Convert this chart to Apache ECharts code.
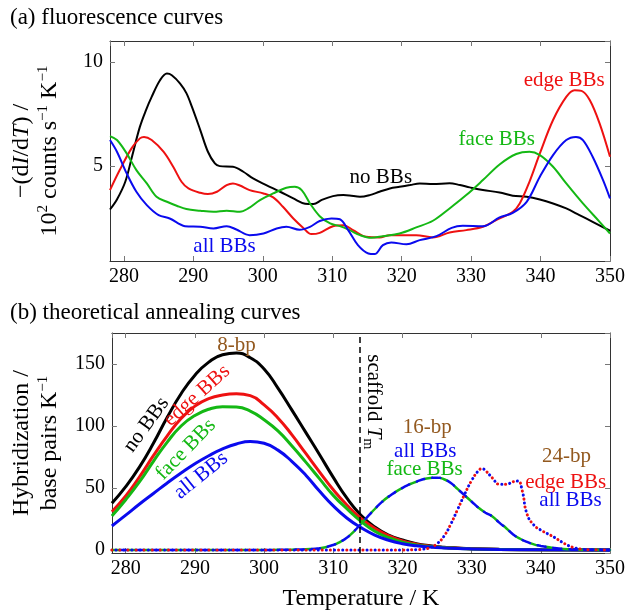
<!DOCTYPE html>
<html>
<head>
<meta charset="utf-8">
<script src="https://cdn.jsdelivr.net/npm/echarts@6/dist/echarts.min.js"></script>
<style>
  html, body { margin: 0; padding: 0; background: #fff; }
  #chart { width: 628px; height: 614px; }
</style>
</head>
<body>
<div id="chart"></div>
<script>
// ---- data: (a) fluorescence curves, [T (K), -(dI/dT) / 1e2 counts s^-1 K^-1]
var fluorNoBBs = [[278,2.92],[279,3.4],[280.2,4.25],[281.2,5.5],[282.3,6.88],[283.2,7.7],[284,8.32],[285.2,9.12],[286.2,9.44],[286.9,9.36],[288.1,8.96],[289,8.5],[289.8,7.84],[291,6.73],[292.1,5.69],[293.1,5.13],[293.8,5.0],[295.7,4.97],[297.2,4.73],[298.6,4.41],[300.5,4.09],[302.5,3.77],[304.4,3.45],[306.1,3.2],[307.3,3.18],[308.5,3.38],[310.1,3.56],[311.6,3.61],[312.5,3.59],[314,3.53],[315.4,3.61],[316.8,3.77],[318.3,3.93],[319.7,4.01],[321.2,4.09],[322.6,4.17],[324.5,4.14],[326.9,4.18],[328.4,4.09],[329.8,3.98],[331.7,3.85],[334.1,3.74],[336,3.58],[338,3.53],[339.9,3.40],[341.8,3.21],[343.7,2.97],[345.6,2.65],[347.5,2.33],[350,1.90]];
var fluorEdgeBBs = [[278,3.85],[279.4,4.81],[281.1,5.85],[282.3,6.33],[282.9,6.40],[284,6.25],[285.7,5.69],[287.1,4.97],[288.3,4.25],[289.3,3.93],[291,3.72],[292.1,3.66],[293.4,3.77],[294.8,4.09],[295.7,4.17],[296.7,4.07],[298.1,3.85],[300.1,3.69],[301.5,3.5],[302.9,3.05],[304.4,2.49],[305.8,2.05],[307,1.74],[308.2,1.8],[310.1,2.12],[311.6,2.17],[313,1.93],[314.9,1.61],[316.8,1.58],[318.3,1.69],[320.2,1.69],[322.1,1.69],[324.5,1.58],[326.9,1.82],[329.3,1.93],[331.7,2.09],[333.6,2.41],[336,2.81],[337,3.21],[338.4,4.25],[339.9,5.61],[341.8,7.21],[343.7,8.32],[344.9,8.64],[345.9,8.61],[347.1,8.16],[348.5,7.05],[350,5.45]];
var fluorFaceBBs = [[278,6.44],[279,6.25],[280.4,5.61],[281.8,4.81],[283.3,4.17],[284.7,3.53],[286.2,3.29],[287.6,3.10],[289,2.94],[291,2.86],[292.9,2.81],[294.8,2.86],[296.7,2.81],[297.9,2.97],[299.6,3.37],[301.5,3.69],[303.4,3.96],[304.6,4.01],[305.6,3.85],[306.8,3.21],[308.2,2.6],[309.7,2.25],[311.1,2.12],[312.5,1.93],[314,1.69],[315.6,1.56],[317.3,1.64],[319.7,1.77],[322.1,2.06],[324.5,2.38],[326.9,2.97],[329.3,3.61],[331.7,4.33],[334.1,5.08],[336.5,5.58],[338.4,5.69],[339.9,5.53],[341.8,4.97],[343.7,4.17],[346.1,3.21],[348.5,2.33],[350,1.77]];
var fluorAllBBs = [[278,6.25],[279,5.69],[280.4,4.65],[281.8,3.77],[283.3,3.13],[285,2.65],[286.6,2.49],[288.8,2.12],[291,2.09],[292.9,2.01],[294.8,2.12],[296.2,1.96],[298.1,1.69],[300.1,1.77],[302,2.01],[303.4,2.09],[305.3,1.95],[306.8,2.09],[308.2,2.37],[309.9,2.49],[311.1,2.45],[312.3,1.93],[313.7,1.21],[315.2,0.81],[316.1,0.78],[317.3,1.21],[318.5,1.34],[320.7,1.25],[322.6,1.45],[325,1.64],[327.2,2.04],[328.8,2.14],[331.7,2.12],[334.1,2.54],[336,2.76],[338,3.29],[339.9,4.49],[341.8,5.53],[343.7,6.25],[345.1,6.40],[346.1,6.25],[347.5,5.45],[349,4.33],[350,3.45]];

// ---- data: (b) theoretical annealing curves, [T (K), base pairs K^-1]
var bp8NoBBs = [[278,37.6],[280,51],[282,67],[284,86],[286,107],[288,126],[290,141],[292,151.5],[294,157.5],[296,158.8],[298,155],[300,146],[302,130.5],[304,113],[306,95],[308,77],[310,58.5],[312,41.5],[314,28],[316,18.5],[318,12],[320,8],[322,5],[324,3.3],[326,2.2],[328,1.5],[330,1],[334,0.5],[340,0.2],[350,0]];
var bp8EdgeBBs = [[278,30.8],[280,43.5],[282,59],[284,76],[286,92],[288,106],[290,116],[292,122],[294,125],[296,126],[298,124.5],[300,117],[302,106.5],[304,93],[306,78],[308,63],[310,48.5],[312,36],[314,25.5],[316,17.5],[318,11.5],[320,7.2],[322,4.6],[324,3],[326,2],[328,1.3],[330,0.9],[334,0.4],[340,0.1],[350,0]];
var bp8FaceBBs = [[278,27.4],[280,40.5],[282,55],[284,71.5],[286,87],[288,100],[290,108.5],[292,113.5],[294,115.5],[296,115.3],[298,112],[300,105],[302,96],[304,84],[306,71],[308,57.5],[310,44],[312,33],[314,23],[316,15],[318,9.8],[320,6.2],[322,4],[324,2.7],[326,1.8],[328,1.2],[330,0.8],[334,0.4],[340,0.1],[350,0]];
var bp8AllBBs = [[278,19.3],[280,28],[282,37],[284,45.5],[286,54],[288,62],[290,69.5],[292,76],[294,81.5],[296,85.5],[298,87.5],[300,86],[302,80.5],[304,71.5],[306,60.5],[308,47.5],[310,35.5],[312,25.5],[314,18],[316,12],[318,7.8],[320,5],[322,3.3],[324,2.3],[326,1.6],[328,1.1],[330,0.8],[334,0.4],[340,0.1],[350,0]];
var bp16 = [[278,0],[300,0],[304,0.2],[306,0.5],[308,1.3],[310,4],[311,6.5],[312,10],[313,15],[314,21],[315,27],[316,33],[317,38.5],[318,43],[320,50],[322,55],[324,58],[325,58.3],[326,57],[327,54],[328,49],[329,44],[330,39],[331,34],[332,30],[333,27],[334,22],[335,17.5],[336,12.5],[337,9],[338,6.5],[339,4.5],[340,3.2],[342,1.5],[344,0.5],[346,0.1],[350,0]];
var bp24 = [[278,0],[320,0],[322,0.2],[323,0.6],[324,1.8],[325,5],[326,11],[327,21],[328,33],[329,45],[330,56],[331,64],[331.5,65.5],[332,64],[333,58],[334,53],[335,53],[336,55],[336.7,55.5],[337.3,48],[338,29],[339,20],[340,16],[341,13],[342,10],[343,6.5],[344,3.5],[345,1.5],[346,0.5],[347,0.1],[350,0]];
var scaffoldTm = 313.8;

var tempMin = 278, tempMax = 350;
var xTickStep = 10;
var fluorMin = 0.45, fluorMax = 11, fluorTickStep = 5;
var hybMin = -2.5, hybMax = 175, hybTickStep = 50;

var SERIF = '"Liberation Serif", "DejaVu Serif", serif';
var BLACK = '#000000', RED = '#ee1111', GREEN = '#14b814', BLUE = '#0a0aee', BROWN = '#93591f';

var chart = echarts.init(document.getElementById('chart'));

function makeX(grid, pos, withLabels, name) {
    return {
        type: 'value', gridIndex: grid, position: pos,
        min: tempMin, max: tempMax, minInterval: xTickStep, maxInterval: xTickStep,
        axisLine: { show: true, onZero: false, lineStyle: { color: '#333', width: 1 } },
        axisTick: { show: true, inside: true, length: 5, lineStyle: { color: '#777' } },
        axisLabel: { show: withLabels, showMinLabel: false, color: '#000', fontFamily: SERIF, fontSize: 20, margin: 6 },
        splitLine: { show: false },
        name: name || '', nameLocation: 'middle', nameGap: 34,
        nameTextStyle: { color: '#000', fontFamily: SERIF, fontSize: 24 }
    };
}
function makeY(grid, pos, withLabels, lo, hi, step, name) {
    return {
        type: 'value', gridIndex: grid, position: pos,
        min: lo, max: hi, minInterval: step, maxInterval: step,
        axisLine: { show: true, onZero: false, lineStyle: { color: '#333', width: 1 } },
        axisTick: { show: true, inside: true, length: 5, lineStyle: { color: '#777' } },
        axisLabel: { show: withLabels, showMinLabel: false, showMaxLabel: false, color: '#000', fontFamily: SERIF, fontSize: 20, margin: 7 },
        splitLine: { show: false },
        name: name || '', nameLocation: 'middle', nameRotate: 90, nameGap: 46,
        nameTextStyle: {
            color: '#000', fontFamily: SERIF, fontSize: 24, lineHeight: 28,
            rich: {
                n: { fontFamily: SERIF, fontSize: 24, lineHeight: 28, color: '#000' },
                i: { fontFamily: SERIF, fontSize: 24, lineHeight: 28, fontStyle: 'italic', color: '#000' },
                sup: { fontFamily: SERIF, fontSize: 15, lineHeight: 28, verticalAlign: 'top', color: '#000' }
            }
        }
    };
}

function line(name, data, xi, color, width, dash, offset) {
    return {
        name: name, type: 'line', xAxisIndex: xi, yAxisIndex: xi,
        data: data, showSymbol: false, symbol: 'none', smooth: xi === 0 ? 0.35 : 0.5,
        lineStyle: { color: color, width: width, type: dash || 'solid', dashOffset: offset || 0, cap: dash ? 'round' : 'butt' },
        silent: true
    };
}

var bp8Black = line('8-bp no BBs', bp8NoBBs, 2, BLACK, 3);
bp8Black.markLine = {
    symbol: 'none', silent: true, label: { show: false },
    lineStyle: { color: '#000', type: [6, 4], width: 1.5 },
    data: [{ xAxis: scaffoldTm }]
};

var option = {
    animation: false,
    backgroundColor: '#ffffff',
    title: [
        { text: '(a) fluorescence curves', left: 10, top: 6, padding: 0,
          textStyle: { fontFamily: SERIF, fontSize: 23, fontWeight: 'normal', color: '#000' } },
        { text: '(b) theoretical annealing curves', left: 10, top: 301, padding: 0,
          textStyle: { fontFamily: SERIF, fontSize: 23, fontWeight: 'normal', color: '#000' } }
    ],
    grid: [
        { left: 110, top: 41, width: 501, height: 220 },
        { left: 110, top: 333, width: 501, height: 220 }
    ],
    xAxis: [
        makeX(0, 'bottom', true),
        makeX(0, 'top', false),
        makeX(1, 'bottom', true, 'Temperature / K'),
        makeX(1, 'top', false)
    ],
    yAxis: [
        makeY(0, 'left', true, fluorMin, fluorMax, fluorTickStep,
            '{n|−(d}{i|I}{n|/d}{i|T}{n|) /}\n{n|10}{sup|2}{n| counts s}{sup|−1}{n| K}{sup|−1}'),
        makeY(0, 'right', false, fluorMin, fluorMax, fluorTickStep),
        makeY(1, 'left', true, hybMin, hybMax, hybTickStep,
            '{n|Hybridization /}\n{n|base pairs K}{sup|−1}'),
        makeY(1, 'right', false, hybMin, hybMax, hybTickStep)
    ],
    series: [
        line('no BBs', fluorNoBBs, 0, BLACK, 2),
        line('edge BBs', fluorEdgeBBs, 0, RED, 2),
        line('face BBs', fluorFaceBBs, 0, GREEN, 2),
        line('all BBs', fluorAllBBs, 0, BLUE, 2),
        bp8Black,
        line('8-bp edge BBs', bp8EdgeBBs, 2, RED, 3),
        line('8-bp face BBs', bp8FaceBBs, 2, GREEN, 3),
        line('8-bp all BBs', bp8AllBBs, 2, BLUE, 3),
        line('16-bp face BBs', bp16, 2, GREEN, 2.5, [8, 8], 0),
        line('16-bp all BBs', bp16, 2, BLUE, 2.5, [8, 8], 8),
        line('24-bp edge BBs', bp24, 2, RED, 3, [0.1, 8], 0),
        line('24-bp all BBs', bp24, 2, BLUE, 3, [0.1, 8], 4)
    ]
};
chart.setOption(option);

// annotation texts anchored at data coordinates
var notes = [
    { g: 0, at: [317, 4.47], text: 'no BBs', color: BLACK, rot: 0 },
    { g: 0, at: [343.4, 9.12], text: 'edge BBs', color: RED, rot: 0 },
    { g: 0, at: [333.7, 6.28], text: 'face BBs', color: GREEN, rot: 0 },
    { g: 0, at: [294.5, 1.13], text: 'all BBs', color: BLUE, rot: 0 },
    { g: 1, at: [296, 164.6], text: '8-bp', color: BROWN, rot: 0 },
    { g: 1, at: [283.0, 101], text: 'no BBs', color: BLACK, rot: 54 },
    { g: 1, at: [290.3, 124.5], text: 'edge BBs', color: RED, rot: 42 },
    { g: 1, at: [288.7, 81], text: 'face BBs', color: GREEN, rot: 46 },
    { g: 1, at: [290.9, 60], text: 'all BBs', color: BLUE, rot: 39 },
    { g: 1, at: [323.6, 98.6], text: '16-bp', color: BROWN, rot: 0 },
    { g: 1, at: [323.3, 79.7], text: 'all BBs', color: BLUE, rot: 0 },
    { g: 1, at: [323.2, 65.2], text: 'face BBs', color: GREEN, rot: 0 },
    { g: 1, at: [343.7, 75.7], text: '24-bp', color: BROWN, rot: 0 },
    { g: 1, at: [343.6, 54.2], text: 'edge BBs', color: RED, rot: 0 },
    { g: 1, at: [344.3, 39.5], text: 'all BBs', color: BLUE, rot: 0 },
    { g: 1, at: [315.8, 119.5], text: 'scaffold {i|T}{sub|m}', color: BLACK, rot: -90 }
];

var graphics = notes.map(function (n) {
    var p = chart.convertToPixel({ gridIndex: n.g }, n.at);
    return {
        type: 'text', x: p[0], y: p[1], rotation: n.rot * Math.PI / 180, silent: true, z: 100,
        style: {
            text: n.text, fill: n.color, font: '21px ' + SERIF,
            align: 'center', verticalAlign: 'middle',
            rich: {
                i: { fontStyle: 'italic', fontSize: 21, fontFamily: SERIF, fill: n.color, lineHeight: 26 },
                sub: { fontSize: 14, fontFamily: SERIF, fill: n.color, verticalAlign: 'bottom', lineHeight: 26 }
            }
        }
    };
});
chart.setOption({ graphic: graphics });
</script>
</body>
</html>
